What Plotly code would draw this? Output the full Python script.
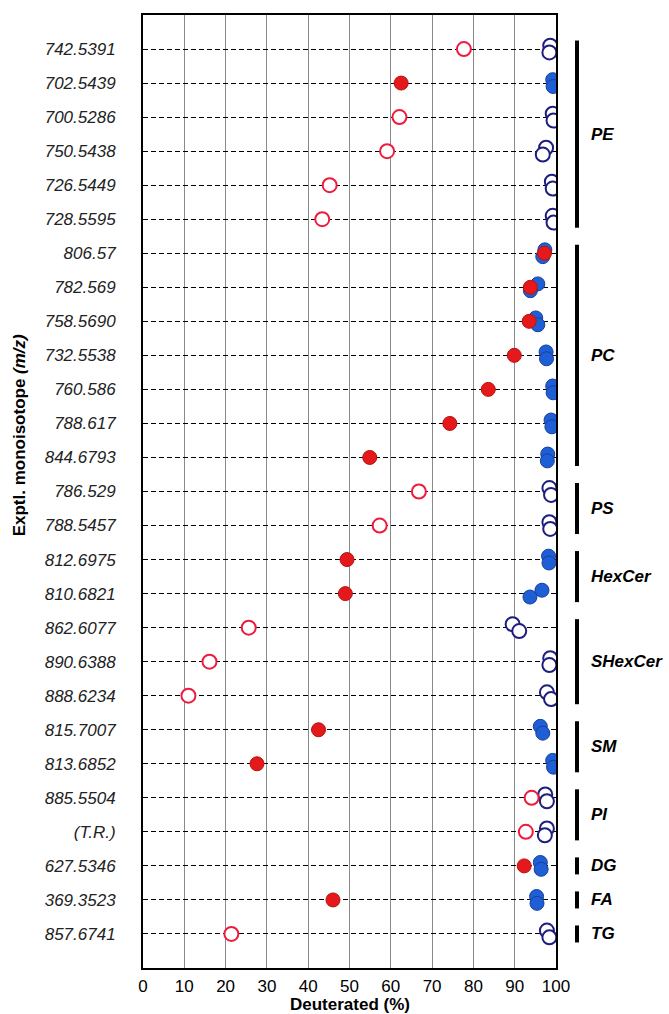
import plotly.graph_objects as go

# ---------------- data ----------------
labels = ["742.5391", "702.5439", "700.5286", "750.5438", "726.5449", "728.5595",
          "806.57", "782.569", "758.5690", "732.5538", "760.586", "788.617", "844.6793",
          "786.529", "788.5457",
          "812.6975", "810.6821",
          "862.6077", "890.6388", "888.6234",
          "815.7007", "813.6852",
          "885.5504", "(T.R.)",
          "627.5346", "369.3523", "857.6741"]

red_vals = [77.7, 62.5, 62.1, 59.1, 45.2, 43.4,
            97.2, 93.8, 93.5, 89.9, 83.6, 74.3, 54.9,
            66.8, 57.3,
            49.4, 49.0,
            25.6, 16.1, 11.0,
            42.5, 27.6,
            94.1, 92.7,
            92.3, 46.0, 21.4]

blue_upper = [98.6, 99.2, 99.2, 97.6, 99.0, 99.2,
              97.3, 95.6, 95.1, 97.6, 99.2, 98.8, 98.0,
              98.4, 98.4,
              98.2, 96.6,
              89.5, 98.6, 97.8,
              96.2, 99.2,
              97.4, 97.8,
              96.2, 95.3, 97.8]

blue_lower = [98.4, 99.3, 99.4, 96.8, 99.2, 99.4,
              96.8, 93.8, 95.6, 97.7, 99.3, 99.0, 97.9,
              98.8, 98.6,
              98.3, 93.7,
              91.1, 98.4, 98.8,
              96.8, 99.4,
              97.8, 97.3,
              96.4, 95.4, 98.4]

filled = [False, True, False, False, False, False,
          True, True, True, True, True, True, True,
          False, False,
          True, True,
          False, False, False,
          True, True,
          False, False,
          True, True, False]

groups = ["PE", "PC", "PS", "HexCer", "SHexCer", "SM", "PI", "DG", "FA", "TG"]
group_start = [0, 6, 13, 15, 17, 20, 22, 24, 25, 26]
group_end = [5, 12, 14, 16, 19, 21, 23, 24, 25, 26]

x_ticks = [0, 10, 20, 30, 40, 50, 60, 70, 80, 90, 100]

# ---------------- styles ----------------
FONT = "Liberation Sans, Arial, sans-serif"
RED = "#e5191c"
RED_EDGE = "#b3140f"
RED_OPEN = "#ee1c3c"
BLUE = "#1f5fd6"
BLUE_EDGE = "#183e9c"
BLUE_OPEN = "#1e1e7e"
OFFSET = 0.1
MSIZE = 14

rows = list(range(len(labels)))

fig = go.Figure()


def add_points(xs, ys, mask, fill, edge, open_edge):
    xf = [x for x, m in zip(xs, mask) if m]
    yf = [y for y, m in zip(ys, mask) if m]
    xo = [x for x, m in zip(xs, mask) if not m]
    yo = [y for y, m in zip(ys, mask) if not m]
    fig.add_trace(go.Scatter(x=xo, y=yo, mode="markers", showlegend=False,
                             marker=dict(size=MSIZE, color="white",
                                         line=dict(color=open_edge, width=2))))
    fig.add_trace(go.Scatter(x=xf, y=yf, mode="markers", showlegend=False,
                             marker=dict(size=MSIZE, color=fill,
                                         line=dict(color=edge, width=1))))


add_points(blue_upper, [r - OFFSET for r in rows], filled, BLUE, BLUE_EDGE, BLUE_OPEN)
add_points(blue_lower, [r + OFFSET for r in rows], filled, BLUE, BLUE_EDGE, BLUE_OPEN)
add_points(red_vals, rows, filled, RED, RED_EDGE, RED_OPEN)

# group bars and labels
BAR_X = (577 - 143) / 413
LAB_X = (589 - 143) / 413
for g, s, e in zip(groups, group_start, group_end):
    fig.add_shape(type="line", xref="paper", yref="y", x0=BAR_X, x1=BAR_X,
                  y0=s - 0.25, y1=e + 0.25, line=dict(color="black", width=4))
    fig.add_annotation(xref="paper", yref="y", x=LAB_X, y=(s + e) / 2,
                       text=f"<b><i>{g}</i></b>", showarrow=False,
                       xanchor="left", yanchor="middle",
                       font=dict(family=FONT, size=17, color="black"))

fig.add_annotation(xref="paper", yref="paper", x=-0.3, y=0.559,
                   text="<b>Exptl. monoisotope <i>(m/z)</i></b>", textangle=-90,
                   showarrow=False, xanchor="center", yanchor="middle",
                   font=dict(family=FONT, size=17, color="black"))
fig.add_annotation(xref="paper", yref="paper", x=0.5, y=-0.0385,
                   text="<b>Deuterated (%)</b>", showarrow=False,
                   xanchor="center", yanchor="middle",
                   font=dict(family=FONT, size=17, color="black"))

fig.update_xaxes(range=[0, 100], tickvals=x_ticks, ticktext=[str(v) for v in x_ticks],
                 showgrid=True, gridcolor="#8a8a8a", gridwidth=1,
                 showline=True, linecolor="black", linewidth=2, mirror=True,
                 ticks="", zeroline=False, ticklabelstandoff=2,
                 tickfont=dict(family=FONT, size=17, color="black"))
fig.update_yaxes(range=[len(labels), -1], tickvals=rows, ticktext=labels,
                 showgrid=True, gridcolor="black", gridwidth=1.2, griddash="5px,3px",
                 showline=True, linecolor="black", linewidth=2, mirror=True,
                 ticks="", zeroline=False, ticklabelstandoff=22,
                 tickfont=dict(family=FONT, size=17, color="#222", style="italic"))

fig.update_layout(width=669, height=1014,
                  margin=dict(l=143, r=113, t=15, b=46),
                  plot_bgcolor="white", paper_bgcolor="white",
                  font=dict(family=FONT))

fig.write_html("out.html")
